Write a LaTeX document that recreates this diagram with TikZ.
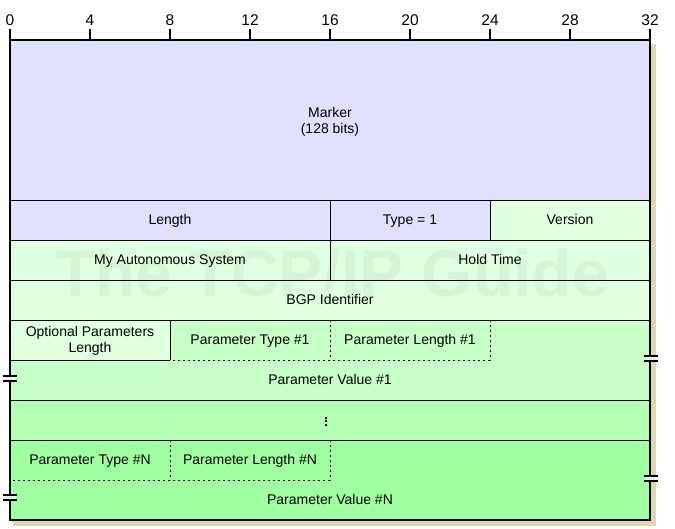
\documentclass[tikz,border=0pt]{standalone}
\usepackage{fontspec}
\setmainfont{Liberation Sans}
\definecolor{lav}{HTML}{E0E0FF}
\definecolor{g1}{HTML}{E0FFE0}
\definecolor{g2}{HTML}{C8FFC8}
\definecolor{g3}{HTML}{B4FFB4}
\definecolor{g4}{HTML}{A0FFA0}
\definecolor{shadow}{HTML}{DCD8B4}
\begin{document}
\begin{tikzpicture}[x=1pt,y=-1pt,
  lbl2/.style={font=\fontsize{14}{16}\selectfont, align=center, inner sep=0pt},
  lbl/.style={font=\fontsize{14}{16}\selectfont, inner sep=0pt, text height=10pt, text depth=3pt},
  rul/.style={font=\fontsize{15.5}{17}\selectfont, inner sep=0pt},
  thin/.style={line width=1pt},
  dot/.style={line width=1pt, dash pattern=on 2pt off 3pt},
  thick/.style={line width=2pt}]
\useasboundingbox (0,0) rectangle (675,528);
% shadow
\fill[shadow] (651,44) rectangle (656,526);
\fill[shadow] (13,521) rectangle (656,526);
% fills
\fill[lav] (10,40) rectangle (650,200);
\fill[lav] (10,200) rectangle (490,240);
\fill[g1] (490,200) rectangle (650,240);
\fill[g1] (10,240) rectangle (650,320);
\fill[g1] (10,320) rectangle (170,360);
\fill[g2] (170,320) rectangle (650,400);
\fill[g2] (10,360) rectangle (170,400);
\fill[g3] (10,400) rectangle (650,440);
\fill[g4] (10,440) rectangle (650,520);
% watermark
\node[font=\fontsize{66}{66}\selectfont\bfseries, text=black, opacity=0.045, inner sep=0pt] (wm) at (332,273) {The TCP/IP Guide};
% ruler
\foreach \i in {0,...,8} {
  \pgfmathtruncatemacro{\b}{4*\i}
  \draw[thick] (10+80*\i,29) -- (10+80*\i,40);
  \node[rul] (r\i) at (10+80*\i,20) {\b};
}
% inner lines
\draw[thin] (10,200) -- (650,200);
\draw[thin] (10,240) -- (650,240);
\draw[thin] (10,280) -- (650,280);
\draw[thin] (10,320) -- (650,320);
\draw[thin] (10,400) -- (650,400);
\draw[thin] (10,440) -- (650,440);
\draw[thin] (330,200) -- (330,280);
\draw[thin] (490,200) -- (490,240);
\draw[thin] (10,360) -- (170,360);
\draw[thin] (170,320) -- (170,360);
\draw[dot] (330,320) -- (330,360);
\draw[dot] (490,320) -- (490,360) -- (170,360);
\draw[dot] (170,440) -- (170,480);
\draw[dot] (330,440) -- (330,480) -- (10,480);
% outer border
\draw[thick] (10,40) rectangle (650,520);
% break marks
\foreach \x/\y in {10/378.5, 10/497.5, 651/358.5, 651/478.5} {
  \fill[lav!60!white] (\x-6,\y-1.5) rectangle (\x+6,\y+1.5);
  \draw[thick] (\x-7,\y-2.5) -- (\x+7,\y-2.5);
  \draw[thick] (\x-7,\y+2.5) -- (\x+7,\y+2.5);
}
% labels
\node[lbl2] (marker) at (330,122) {Marker\\(128 bits)};
\node[lbl] (len) at (170,221) {Length};
\node[lbl] (type) at (410,221) {Type = 1};
\node[lbl] (ver) at (570,221) {Version};
\node[lbl] (myas) at (170,261) {My Autonomous System};
\node[lbl] (hold) at (490,261) {Hold Time};
\node[lbl] (bgp) at (330,301) {BGP Identifier};
\node[lbl2] (optlen) at (90,341) {Optional Parameters\\Length};
\node[lbl] (pt1) at (250,341) {Parameter Type \#1};
\node[lbl] (pl1) at (410,341) {Parameter Length \#1};
\node[lbl] (pv1) at (330,381) {Parameter Value \#1};
\node[inner sep=0pt] (ell) at (326,421) {};
\foreach \d in {-3.5,0,3.5} \fill (325,421+\d-1) rectangle (327,421+\d+1);
\node[lbl] (ptn) at (90,461) {Parameter Type \#N};
\node[lbl] (pln) at (250,461) {Parameter Length \#N};
\node[lbl] (pvn) at (330,501) {Parameter Value \#N};
\end{tikzpicture}
\end{document}
